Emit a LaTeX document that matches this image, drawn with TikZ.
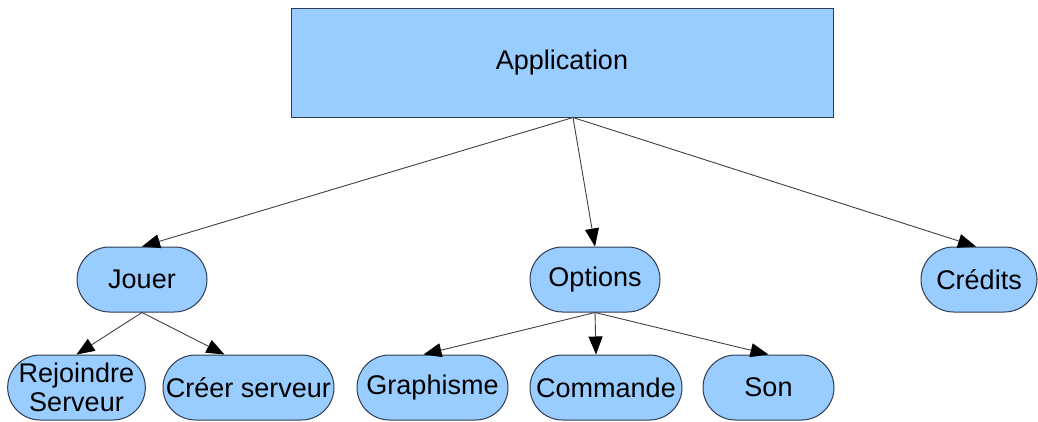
\documentclass[tikz,border=0pt]{standalone}
\usepackage{fontspec}
\setmainfont{Liberation Sans}
\usetikzlibrary{arrows.meta,shapes.misc}
\definecolor{boxblue}{RGB}{153,204,255}
\definecolor{boxline}{RGB}{45,60,80}

\begin{document}
\begin{tikzpicture}[x=1pt, y=-1pt,
    every node/.style={font=\fontsize{27}{29}\selectfont, inner sep=0pt},
    appbox/.style={rectangle, draw=boxline, fill=boxblue, line width=1pt,
        minimum width=542pt, minimum height=109pt},
    menu/.style={rounded rectangle, draw=boxline, fill=boxblue, line width=1pt,
        minimum height=65pt, align=center},
    link/.style={-{Triangle[length=18pt,width=14pt,color=black]},
        draw=black!75, line width=0.9pt}]
            \useasboundingbox (0,0) rectangle (1038,421);
            % top level
            \node[appbox] (app) at (562,62.5) {Application};
            % menus
            \node[menu, minimum width=130pt] (jouer) at (142,279.5) {Jouer};
            \node[menu, minimum width=130pt] (options) at (595,279.5) {Options};
            \node[menu, minimum width=116pt] (credits) at (979,279.5) {Crédits};
            % sub menus
            \node[menu, minimum width=129pt] (rejoindre) at (76.5,387.5) {Rejoindre\\Serveur};
            \node[menu, minimum width=171pt] (creer) at (248.5,387.5) {Créer serveur};
            \node[menu, minimum width=151pt] (graphisme) at (432.5,387.5) {Graphisme};
            \node[menu, minimum width=152pt] (commande) at (606,387.5) {Commande};
            \node[menu, minimum width=131pt] (son) at (768.5,387.5) {Son};
            \coordinate (appout) at ([xshift=11pt]app.south);
            \draw[link] (appout) -- (jouer.north);
            \draw[link] (appout) -- (options.north);
            \draw[link] (appout) -- ([xshift=-3pt]credits.north);
            \draw[link] (jouer.south) -- (rejoindre.north);
            \draw[link] (jouer.south) -- ([xshift=-24pt]creer.north);
            \draw[link] (options.south) -- ([xshift=-9pt]graphisme.north);
            \draw[link] (options.south) -- ([xshift=-10pt]commande.north);
            \draw[link] (options.south) -- (son.north);
        \end{tikzpicture}
\end{document}
